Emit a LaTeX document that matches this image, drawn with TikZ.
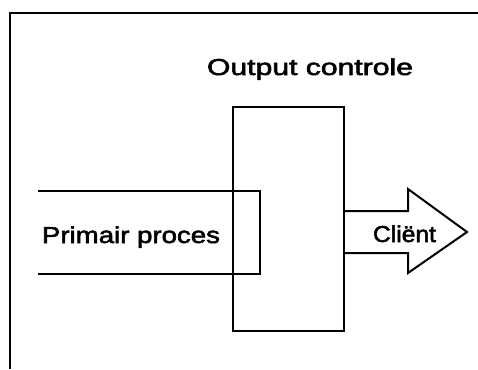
\documentclass[tikz,border=0pt]{standalone}
\usepackage{fontspec}
\setmainfont{Liberation Sans}
\newfontfamily\lblfont{Liberation Sans}[FakeBold=2.2]
\usepackage{graphicx}
\begin{document}
\begin{tikzpicture}[x=1pt,y=-1pt,
  ln/.style={line width=2pt, line join=miter},
  lbl/.style={inner sep=0pt, anchor=base, font=\lblfont\fontsize{23}{26}\selectfont}]
\useasboundingbox (0,0) rectangle (478,369);
% frame
\coordinate (fTR) at (478,13);
\coordinate (fTL) at (10,13);
\coordinate (fBL) at (10,369);
\draw[ln] (fTR) -- (fTL) -- (fBL);
% output control box
\node[draw, ln, minimum width=111pt, minimum height=224pt, inner sep=0pt] (box) at (288.5,219) {};
\node[lbl] (outl) at (310,75) {\resizebox{206pt}{\height}{Output controle}};
% primary process channel
\coordinate (pTL) at (38,191);
\coordinate (pTR) at (260,191);
\coordinate (pBR) at (260,274);
\coordinate (pBL) at (38,274);
\draw[ln] (pTL) -- (pTR) -- (pBR) -- (pBL);
\node[lbl] (prim) at (131,243) {\resizebox{178pt}{\height}{Primair proces}};
% client arrow
\coordinate (a1) at (box.east |- 0,211);
\coordinate (a7) at (box.east |- 0,253);
\draw[ln] (a1) -- (408,211) -- (408,189) -- (467,232) -- (408,273) -- (408,253) -- (a7);
\node[lbl] (cli) at (404.5,242) {\resizebox{63pt}{\height}{Cliënt}};
\end{tikzpicture}
\end{document}
